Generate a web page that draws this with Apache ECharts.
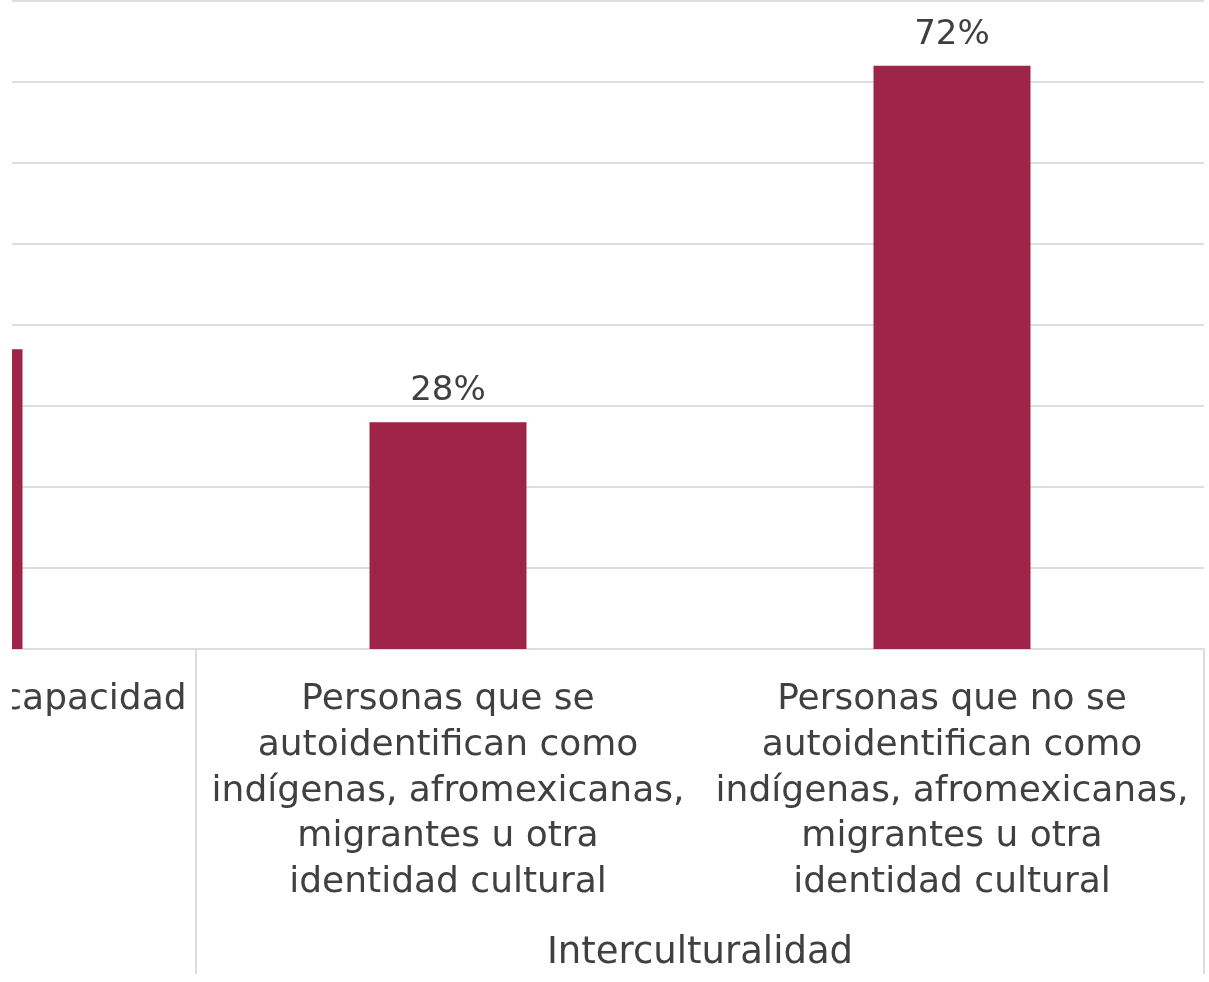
<!DOCTYPE html>
<html>
<head>
<meta charset="utf-8">
<style>
html,body{margin:0;padding:0;background:#fff;}
#chart{width:1209px;height:982px;}
</style>
<script src="https://cdn.jsdelivr.net/npm/echarts@6/dist/echarts.min.js"></script>
</head>
<body>
<div id="chart"></div>
<script>
var categories = [
  'Personas con discapacidad',
  'Personas que se\nautoidentifican como\nindígenas, afromexicanas,\nmigrantes u otra\nidentidad cultural',
  'Personas que no se\nautoidentifican como\nindígenas, afromexicanas,\nmigrantes u otra\nidentidad cultural'
];
var values = [37, 28, 72];
var groupSlots = ['', '', '', '', 'Interculturalidad', '', ''];
var yTicks = [0, 10, 20, 30, 40, 50, 60, 70, 80];

var FONT = 'DejaVu Sans';
var TXT = '#404040';
var GRID = '#dedede';

var chart = echarts.init(document.getElementById('chart'));
chart.setOption({
  animation: false,
  backgroundColor: '#ffffff',
  grid: { left: -308, right: 5, top: 1, bottom: 333, containLabel: false, outerBoundsMode: 'none' },
  xAxis: [{
    type: 'category',
    data: categories,
    axisLine: { show: true, lineStyle: { color: GRID, width: 2 } },
    axisTick: { show: false },
    axisLabel: {
      interval: 0, color: TXT, fontFamily: FONT, fontSize: 36,
      lineHeight: 45.75, margin: 28, align: 'center', hideOverlap: false
    }
  }, {
    type: 'category',
    data: groupSlots,
    boundaryGap: false,
    position: 'bottom',
    axisLine: { show: false },
    axisTick: {
      show: true, length: 325,
      interval: function (i) { return i === 2 || i === 6; },
      lineStyle: { color: GRID, width: 2 }
    },
    axisLabel: {
      interval: 0, color: TXT, fontFamily: FONT, fontSize: 37,
      lineHeight: 45.75, margin: 282
    }
  }],
  yAxis: {
    type: 'value', min: yTicks[0], max: yTicks[yTicks.length - 1], interval: 10,
    axisLine: { show: false }, axisTick: { show: false }, axisLabel: { show: false },
    splitLine: { show: true, lineStyle: { color: GRID, width: 2 } }
  },
  series: [{
    type: 'bar',
    data: values,
    xAxisIndex: 0,
    barWidth: 157,
    itemStyle: { color: '#9E2449' },
    label: {
      show: true, position: 'top', distance: 14,
      formatter: '{c}%', color: TXT, fontFamily: FONT, fontSize: 34
    }
  }],
  graphic: [{
    type: 'rect', left: 0, top: 0, z: 100,
    shape: { width: 12, height: 982 },
    style: { fill: '#ffffff' }
  }]
});
</script>
</body>
</html>
